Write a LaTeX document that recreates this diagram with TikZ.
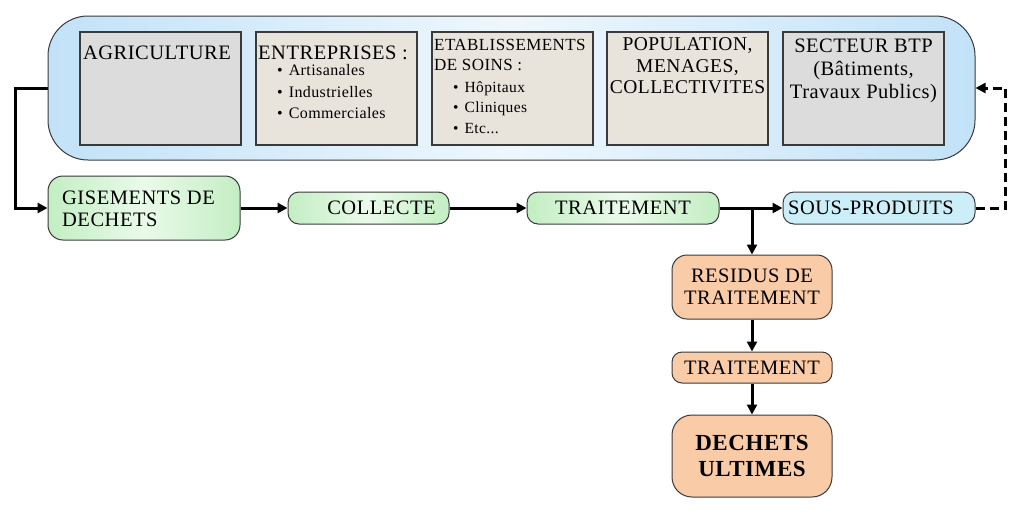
\documentclass[tikz,border=0pt]{standalone}
\usepackage{fontspec}
\setmainfont{Liberation Serif}[BoldFont={Liberation Serif Bold}, LetterSpace=2.5]
\usetikzlibrary{arrows.meta,calc}
\definecolor{bluefill}{HTML}{C2E2F8}
\definecolor{bluemid}{HTML}{EEF7FD}
\definecolor{boxA}{HTML}{DCDCDC}
\definecolor{boxB}{HTML}{E8E4DC}
\definecolor{greenfill}{HTML}{C3EEC3}
\definecolor{greenmid}{HTML}{EAFAEA}
\definecolor{orangefill}{HTML}{F9CBA7}
\definecolor{cyanfill}{HTML}{CBEEF8}
\definecolor{edge}{HTML}{3A3A3A}
\begin{document}
\begin{tikzpicture}[x=1pt,y=-1pt,
  srcbox/.style={draw=edge, line width=2pt, inner sep=0, minimum width=161pt, minimum height=113pt},
  txt/.style={inner sep=0, anchor=base, font=\fontsize{20.5}{24}\selectfont},
  txtl/.style={txt, anchor=base west},
  smalltxt/.style={inner sep=0, anchor=base west, font=\fontsize{16}{18}\selectfont},
  flowbox/.style={draw=edge, line width=1pt, rounded corners=11pt, inner sep=0, align=center, font=\fontsize{20.5}{22}\selectfont},
  arr/.style={line width=3pt, -{Triangle[length=10pt,width=10pt]}},
  plain/.style={line width=3pt}
]
\useasboundingbox (0,0) rectangle (1011,512);

% big source container
\node[draw=edge, line width=1pt, rounded corners=40pt, minimum width=927pt, minimum height=144pt,
      left color=bluefill, right color=bluefill, middle color=bluemid, inner sep=0] (sources) at (511.5,88) {};

% inner boxes
\node[srcbox, fill=boxA] (agri) at (160.5,88.5) {};
\node[srcbox, fill=boxB] (ent)  at (336.5,88.5) {};
\node[srcbox, fill=boxB] (etab) at (512.5,88.5) {};
\node[srcbox, fill=boxB] (pop)  at (687.5,88.5) {};
\node[srcbox, fill=boxA] (sec)  at (863.5,88.5) {};

\node[txt] (agriT) at (157,59) {AGRICULTURE};

\node[txtl] (entT) at (258,59) {ENTREPRISES :};
\node[smalltxt] (ent1) at (277,75) {\textbullet\hspace{6pt}Artisanales};
\node[smalltxt] (ent2) at (277,97) {\textbullet\hspace{6pt}Industrielles};
\node[smalltxt] (ent3) at (277,118.5) {\textbullet\hspace{6pt}Commerciales};

\node[txtl, font=\fontsize{17}{20}\selectfont] (etabT1) at (434,50) {ETABLISSEMENTS};
\node[txtl, font=\fontsize{17}{20}\selectfont] (etabT2) at (434,70) {DE SOINS :};
\node[smalltxt, font=\fontsize{15.5}{18}\selectfont] (etab1) at (453,92) {\textbullet\hspace{6pt}Hôpitaux};
\node[smalltxt, font=\fontsize{15.5}{18}\selectfont] (etab2) at (453,112) {\textbullet\hspace{6pt}Cliniques};
\node[smalltxt, font=\fontsize{15.5}{18}\selectfont] (etab3) at (453,133) {\textbullet\hspace{6pt}Etc...};

\node[txt, font=\fontsize{19.5}{22}\selectfont] (pop1) at (687.5,50) {POPULATION,};
\node[txt, font=\fontsize{19.5}{22}\selectfont] (pop2) at (687.5,72) {MENAGES,};
\node[txt, font=\fontsize{19.5}{22}\selectfont] (pop3) at (687.5,93) {COLLECTIVITES};

\node[txt] (sec1) at (863.5,52) {SECTEUR BTP};
\node[txt] (sec2) at (863.5,75) {(Bâtiments,};
\node[txt] (sec3) at (863.5,98) {Travaux Publics)};

% flow boxes
\node[flowbox, rounded corners=15pt, minimum width=192pt, minimum height=64pt,
      left color=greenfill, right color=greenfill, middle color=greenmid] (gis) at (144,208) {};
\node[txtl] (gisT1) at (62,204) {GISEMENTS DE};
\node[txtl] (gisT2) at (62,226) {DECHETS};

\node[flowbox, minimum width=161pt, minimum height=32pt,
      left color=greenfill, right color=greenfill, middle color=greenmid] (coll) at (368.5,208) {\hspace*{26pt}COLLECTE};
\node[flowbox, minimum width=192pt, minimum height=32pt,
      left color=greenfill, right color=greenfill, middle color=greenmid] (trait) at (623,208) {TRAITEMENT};
\node[flowbox, minimum width=192pt, minimum height=32pt, fill=cyanfill] (sous) at (879,208) {SOUS-PRODUITS\hspace*{16pt}};

\node[flowbox, rounded corners=15pt, minimum width=160pt, minimum height=64pt, fill=orangefill] (res) at (752,287) {RESIDUS DE\\TRAITEMENT};
\node[flowbox, rounded corners=10pt, minimum width=160pt, minimum height=31pt, fill=orangefill] (trait2) at (752,367.5) {TRAITEMENT};
\node[flowbox, rounded corners=20pt, minimum width=160pt, minimum height=82pt, fill=orangefill,
      font=\fontsize{23}{26}\selectfont\bfseries] (ult) at (752,456) {DECHETS\\ULTIMES};

% connectors
\draw[arr] (sources.west) -- ++(-32,0) |- (gis.west);
\draw[arr] (gis.east) -- (coll.west);
\draw[arr] (coll.east) -- (trait.west);
\draw[arr] (trait.east) -- (sous.west);
\coordinate (br) at (res.north |- trait.east);
\draw[arr] (br) -- (res.north);
\draw[arr] (res.south) -- (trait2.north);
\draw[arr] (trait2.south) -- (ult.north);
\draw[arr, dash pattern=on 9pt off 5pt] (sous.east) -- ++(30,0) |- (sources.east);
\end{tikzpicture}
\end{document}
